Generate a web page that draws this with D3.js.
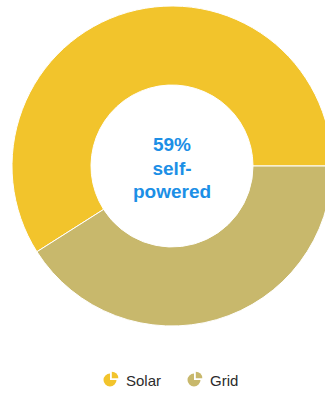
<!DOCTYPE html>
<html>
<head>
<meta charset="utf-8">
<script src="https://cdn.jsdelivr.net/npm/d3@7"></script>
<style>
  html, body { margin: 0; padding: 0; background: #fff; overflow: hidden; }
  svg { display: block; }
</style>
</head>
<body>
<svg id="chart" width="325" height="394"></svg>
<script>
// Energy source shares (percent)
const categories = ["Solar", "Grid"];
const shares = [59, 41];
const colors = ["#F2C42C", "#C8B86C"];
const centerLines = ["59%", "self-", "powered"];

const svg = d3.select("#chart");
const cx = 172, cy = 166;
const outerR = 160, innerR = 81;

const total = d3.sum(shares);
// Solar ends at 3 o'clock; the ring starts where Solar begins
const start = Math.PI / 2 - 2 * Math.PI * shares[0] / total;

const pie = d3.pie().sort(null).value(d => d)
  .startAngle(start).endAngle(start + 2 * Math.PI);
const arc = d3.arc().innerRadius(innerR).outerRadius(outerR);

const g = svg.append("g").attr("transform", `translate(${cx},${cy})`);
g.selectAll("path.slice")
  .data(pie(shares))
  .join("path")
  .attr("class", "slice")
  .attr("d", arc)
  .attr("fill", (d, i) => colors[i])
  .attr("stroke", "#fff")
  .attr("stroke-width", 1);

// Centre label
const label = g.append("text")
  .attr("text-anchor", "middle")
  .attr("font-family", "Liberation Sans, Arial, sans-serif")
  .attr("font-weight", "bold")
  .attr("font-size", 19)
  .attr("fill", "#1C8FE6");
centerLines.forEach((t, i) => {
  label.append("tspan")
    .attr("x", 0)
    .attr("y", -15 + i * 23.5)
    .text(t);
});

// Legend with small pie glyphs
const legendY = 380;
const legendX = [110, 194];
const glyphMain = d3.arc().innerRadius(0).outerRadius(6.5)
  .startAngle(Math.PI / 2).endAngle(2 * Math.PI);
const glyphWedge = d3.arc().innerRadius(0).outerRadius(6.5)
  .startAngle(0).endAngle(Math.PI / 2);

const legend = svg.append("g");
categories.forEach((c, i) => {
  const item = legend.append("g").attr("transform", `translate(${legendX[i]},${legendY})`);
  item.append("path").attr("d", glyphMain()).attr("fill", colors[i]);
  item.append("path").attr("d", glyphWedge())
    .attr("transform", "translate(1.8,-1.8)")
    .attr("fill", colors[i]);
  item.append("text")
    .attr("x", 16)
    .attr("y", 6)
    .attr("font-family", "Liberation Sans, Arial, sans-serif")
    .attr("font-size", 15)
    .attr("fill", "#2b2b2b")
    .text(c);
});
</script>
</body>
</html>
